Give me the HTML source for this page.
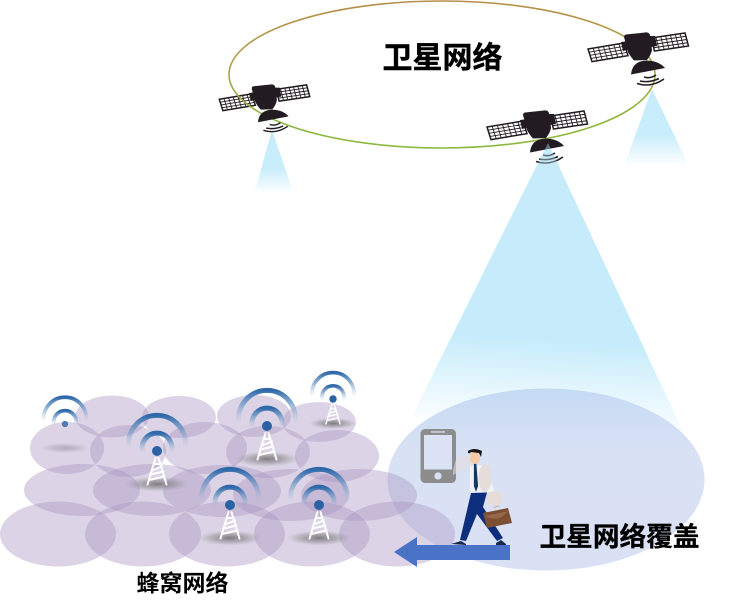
<!DOCTYPE html>
<html><head><meta charset="utf-8"><style>
html,body{margin:0;padding:0;background:#fff;width:744px;height:602px;overflow:hidden}
svg{display:block}
text{font-family:"Liberation Sans","Noto Sans CJK SC",sans-serif;font-weight:700;fill:#000}
</style></head><body>
<svg width="744" height="602" viewBox="0 0 744 602" xmlns="http://www.w3.org/2000/svg">
<defs>
<filter id="soft" x="-5%" y="-5%" width="110%" height="110%"><feGaussianBlur stdDeviation=".35"/></filter>
<linearGradient id="orbit" x1="0" y1="0" x2="0.1" y2="1">
<stop offset="0" stop-color="#b98a48"/><stop offset="0.45" stop-color="#b0a048"/><stop offset="0.8" stop-color="#8fb53f"/><stop offset="1" stop-color="#8cb83c"/>
</linearGradient>
<linearGradient id="bigbeam" gradientUnits="userSpaceOnUse" x1="546" y1="340" x2="540" y2="432">
<stop offset="0" stop-color="#c6ecfb"/><stop offset="1" stop-color="#fff"/>
</linearGradient>
<linearGradient id="smallbeam" x1="0" y1="0" x2="0" y2="1">
<stop offset="0" stop-color="#c6ecfb"/><stop offset="0.6" stop-color="#c9edfb"/><stop offset="1" stop-color="#fff"/>
</linearGradient>
<linearGradient id="cover" x1="0" y1="0" x2="0" y2="1">
<stop offset="0" stop-color="#c4daf3"/><stop offset="0.35" stop-color="#d9e1f4"/><stop offset="1" stop-color="#dae1f4"/>
</linearGradient>
<linearGradient id="arc" x1="0" y1="0" x2="0" y2="1">
<stop offset="0" stop-color="#2e68a9"/><stop offset="0.4" stop-color="#5f8dbf" stop-opacity="0.7"/><stop offset="1" stop-color="#9dbbd9" stop-opacity="0"/>
</linearGradient>
<radialGradient id="shadow"><stop offset="0" stop-color="#555" stop-opacity=".7"/><stop offset="0.55" stop-color="#777" stop-opacity=".42"/><stop offset="1" stop-color="#888" stop-opacity="0"/></radialGradient>
<g id="panel">
<rect x="0" y="0" width="1" height="1" fill="#fff" stroke="#231f20" stroke-width="1.5" vector-effect="non-scaling-stroke"/>
<path d="M.143,0V1M.286,0V1M.429,0V1M.571,0V1M.714,0V1M.857,0V1M0,.25H1M0,.5H1M0,.75H1" fill="none" stroke="#231f20" stroke-width="0.9" vector-effect="non-scaling-stroke"/>
</g>
<g id="panels">
<use href="#panel" transform="matrix(36,-6,4,12.6,487,127)"/>
<use href="#panel" transform="matrix(34,-5,3.5,13,550,116)"/>
</g>
<g id="body">
<polygon points="520,120 528,119 530,127 522,129" fill="#231f20"/>
<polygon points="548,114 554,114 556,124 550,125" fill="#231f20"/>
<path d="M523,115 Q523,113 525,112.500 L544,110.500 Q548,110 549,113 L551,128 Q550,133 546,138 L533,138.500 Q529,134 527,130 Z" fill="#231f20"/>
<path d="M530,152.500 Q531,139 546,138.500 Q558,139 564,146 Z" fill="#231f20"/>
<path d="M543,155 Q549,157 555,153" fill="none" stroke="#231f20" stroke-width="1.6"/>
<path d="M539,159 Q549,161 558,156.500" fill="none" stroke="#231f20" stroke-width="1.6"/>
<path d="M536,161.500 Q550,166 563,157" fill="none" stroke="#231f20" stroke-width="1.6"/>
</g>
<g id="mast" stroke="#fff" stroke-width="2" fill="none" stroke-linecap="round">
<path d="M-1.500,7 L-9.500,33.500 M1.500,7 L9.500,33.500 M-3,13 L3,13 M-5,19.500 L5,15.500 M-6.500,23.500 L6.500,20.500 M-8,29 L7.500,25.500"/>
</g>
<g id="arcs">
<path d="M-28.200,-3 A28.500,28.500 0 1 1 28.200,-3" fill="none" stroke="url(#arc)" stroke-width="5"/>
<path d="M-14.200,2 A15,15 0 1 1 14.200,2" fill="none" stroke="url(#arc)" stroke-width="5"/>
</g>
<g id="tower">
<ellipse cx="0" cy="33" rx="32" ry="7.5" fill="url(#shadow)"/>
<use href="#arcs"/>
<use href="#mast"/>
<circle r="5" fill="#2b62a5"/>
</g>
</defs>

<!-- coverage ellipse and big beam -->
<polygon points="548,143 400,440 687,440" fill="url(#bigbeam)"/>
<ellipse cx="546" cy="479.5" rx="158.5" ry="91" fill="url(#cover)"/>

<!-- small beams -->
<polygon points="272,130 254,194 294,194" fill="url(#smallbeam)"/>
<polygon points="652,89 624,166 689,166" fill="url(#smallbeam)"/>

<!-- satellite panels, orbit, satellite bodies -->
<g filter="url(#soft)">
<use href="#panels" transform="translate(-219,-15) scale(.9)"/>
<use href="#panels"/>
<use href="#panels" transform="translate(101,-78)"/>
<ellipse cx="442" cy="74.500" rx="213" ry="73.500" fill="none" stroke="url(#orbit)" stroke-width="1.6"/>
<use href="#body" transform="translate(-219,-15) scale(.9)"/>
<use href="#body"/>
<use href="#body" transform="translate(101,-78)"/>
<polygon points="548,143 536,168 560,168" fill="#c6ecfb" opacity=".4"/>
</g>

<!-- faint left tower (behind) -->
<g transform="translate(65,424) scale(.73)" opacity=".5">
<use href="#mast"/>
</g>
<ellipse cx="65" cy="448" rx="24" ry="5" fill="url(#shadow)" opacity=".6"/>

<!-- cells -->
<g fill="rgb(167,147,192)" fill-opacity=".4">
<ellipse cx="112" cy="416.500" rx="37" ry="21"/>
<ellipse cx="179" cy="417" rx="37" ry="21"/>
<ellipse cx="254" cy="416" rx="37" ry="21"/>
<ellipse cx="319" cy="422" rx="37" ry="20"/>
<ellipse cx="67" cy="448" rx="37" ry="26"/>
<ellipse cx="128" cy="451" rx="38" ry="26"/>
<ellipse cx="205" cy="448" rx="42" ry="26"/>
<ellipse cx="268" cy="452" rx="42" ry="26"/>
<ellipse cx="337" cy="456" rx="42" ry="26"/>
<ellipse cx="82" cy="490" rx="58" ry="26"/>
<ellipse cx="152" cy="490" rx="59" ry="26"/>
<ellipse cx="222" cy="491" rx="59" ry="26"/>
<ellipse cx="291" cy="495" rx="58" ry="26"/>
<ellipse cx="359" cy="495" rx="58" ry="26"/>
<ellipse cx="58" cy="534" rx="58" ry="32.500"/>
<ellipse cx="143" cy="534" rx="58" ry="32.500"/>
<ellipse cx="227" cy="534" rx="58" ry="32.500"/>
<ellipse cx="312" cy="534" rx="58" ry="32.500"/>
<ellipse cx="397" cy="534" rx="58" ry="32.500"/>
</g>

<!-- towers -->
<g filter="url(#soft)">
<g transform="translate(65,424) scale(.75)"><use href="#arcs"/><circle r="4.200" fill="#4f78b0"/></g>
<use href="#tower" transform="translate(157,451)"/>
<use href="#tower" transform="translate(267,426)"/>
<use href="#tower" transform="translate(230,505)"/>
<use href="#tower" transform="translate(319,505)"/>
<use href="#tower" transform="translate(333,399) scale(.74)"/>
</g>

<!-- phone -->
<rect x="420.500" y="429" width="35.500" height="54" rx="4.500" fill="#8d8d8d"/>
<rect x="424" y="435" width="28" height="34.500" fill="#dbe2f4"/>
<rect x="431" y="431.300" width="14" height="1.300" fill="#dbe2f4"/>
<circle cx="438" cy="476" r="3.600" fill="#dbe2f4"/>

<!-- person -->
<g filter="url(#soft)">
<path d="M453,475 Q462,470 470,466 L472,457 Q464,454 456,459 L453,470Z" fill="#e6dfdc" opacity=".55"/>
<polygon points="470,466 485,465 495,492 470,493" fill="#eff1f6"/>
<path d="M474.500,464 L474.500,486 L476,490 L477.500,486 L475.800,464Z" fill="#12395f" stroke="#12395f" stroke-width="1.200"/>
<ellipse cx="485" cy="478" rx="6.500" ry="14" fill="#e6dcd9"/>
<ellipse cx="495" cy="498" rx="8" ry="7" fill="#e8dcd8"/>
<polygon points="471,493 487,492.500 483,507 503,538 497,541 477,514 466,541 460,540" fill="#0c2f7c"/>
<path d="M451,544 L461,541 L466,544 L466,545 Z" fill="#15294f"/>
<path d="M496,543 L501,540 L506,544 L506,546 L496,546Z" fill="#15294f"/>
<ellipse cx="475" cy="457" rx="5" ry="7" fill="#f6caa5"/>
<path d="M468,451 Q474,447 482,451 L481,457 L479,453 L471,452 Q470,454 468,453Z" fill="#16181d"/>
<path d="M494,508 Q496,505 500,507" fill="none" stroke="#c9b6a3" stroke-width="1.200"/>
<polygon points="483,513 508,508 512,523 487,528" fill="#7c4f31"/>
<path d="M484,516 L509,511 L500,518 Q494,520 484,516Z" fill="#96684a"/>
</g>

<!-- arrow -->
<polygon points="394,552 417,537 417,545 510,545 510,560 417,560 417,567" fill="#4a72c6"/>

<!-- labels -->
<text x="382.500" y="68" font-size="30" stroke="#000" stroke-width=".4">卫星网络</text>
<text x="539.500" y="546" font-size="26.700" stroke="#000" stroke-width=".3">卫星网络覆盖</text>
<text x="136.500" y="591" font-size="23">蜂窝网络</text>
</svg>
</body></html>
